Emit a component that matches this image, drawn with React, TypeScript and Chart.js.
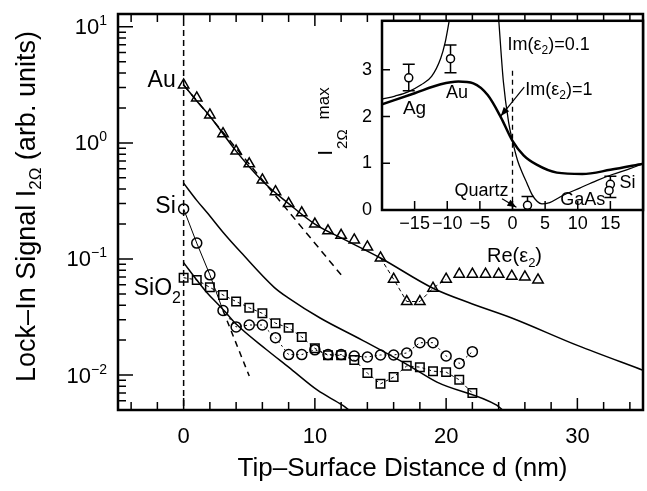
import { useEffect, useRef } from 'react';
import { Chart, registerables } from 'chart.js';

Chart.register(...registerables);

const FONT = '"Liberation Sans", Arial, Helvetica, sans-serif';

// ---------------- main panel data ----------------
const auDistance = [0, 1, 2, 3, 4, 5, 6, 7, 8, 9, 10, 11, 12, 13, 14, 15, 16, 17, 18, 19, 20, 21, 22, 23, 24, 25, 26, 27];
const auSignal = [3.16, 2.44, 1.74, 1.2, 0.85, 0.66, 0.48, 0.38, 0.3, 0.25, 0.2, 0.175, 0.16, 0.146, 0.127, 0.102, 0.067, 0.043, 0.043, 0.056, 0.067, 0.074, 0.074, 0.074, 0.074, 0.071, 0.07, 0.066];

const siDistance = [0, 1, 2, 3, 4, 5, 6, 7, 8, 9, 10, 11, 12, 13, 14, 15, 16, 17, 18, 19, 20, 21, 22];
const siSignal = [0.27, 0.137, 0.073, 0.036, 0.026, 0.027, 0.027, 0.021, 0.015, 0.015, 0.0165, 0.015, 0.015, 0.0146, 0.0143, 0.0149, 0.0149, 0.0155, 0.019, 0.019, 0.0146, 0.0126, 0.0159];

const sio2Distance = [0, 1, 2, 3, 4, 5, 6, 7, 8, 9, 10, 11, 12, 13, 14, 15, 16, 17, 18, 19, 20, 21, 22];
const sio2Signal = [0.069, 0.066, 0.057, 0.049, 0.043, 0.038, 0.034, 0.028, 0.0255, 0.0213, 0.017, 0.0148, 0.0148, 0.0135, 0.0104, 0.0084, 0.0096, 0.012, 0.0117, 0.0108, 0.0106, 0.0091, 0.007];

// model curves (solid)
const auModelD = [0, 1, 2, 4, 6, 8, 10, 12, 15, 19, 22, 25, 30, 35];
const auModelI = [3.16, 2.3, 1.7, 0.85, 0.47, 0.3, 0.2, 0.152, 0.102, 0.056, 0.041, 0.031, 0.018, 0.011];
const siModelD = [0, 1, 1.8, 3, 4.4, 6.9, 8, 10.4, 13.6, 17.2, 19.3, 23.85, 24.3];
const siModelI = [0.45, 0.32, 0.25, 0.17, 0.113, 0.057, 0.046, 0.031, 0.02, 0.012, 0.0087, 0.0055, 0.005];
const sio2ModelD = [0, 1, 1.8, 2.6, 3.2, 4, 6.3, 8, 10.2, 12.1, 12.6];
const sio2ModelI = [0.093, 0.066, 0.051, 0.041, 0.0347, 0.0275, 0.0166, 0.0117, 0.0074, 0.0055, 0.005];

// exponential fits (dashed)
const auFitD = [0, 12];
const auFitI = [3.16, 0.073];
const siFitD = [3, 5];
const siFitI = [0.036, 0.0098];

// contact line d = 0
const contactD = [0, 0];
const contactI = [9.4, 0.005];

// axis ticks
const xTickValues = [-4, -2, 0, 2, 4, 6, 8, 10, 12, 14, 16, 18, 20, 22, 24, 26, 28, 30, 32, 34];
const yDecadeExponents = [-2, -1, 0, 1];
const yDecadeLabels = ['−2', '−1', '0', '1'];

// ---------------- inset data ----------------
const im01LeftRe = [-20, -18, -16, -14, -12.4, -11, -10.3, -9.7];
const im01LeftVal = [2.37, 2.44, 2.53, 2.68, 2.86, 3.25, 3.6, 4.05];
const im01RightRe = [-2.1, -1.4, -0.6, 0, 0.8, 1.5, 2.2, 3, 3.8, 4.5, 5.7, 7.7, 10.3, 12.9, 15.3, 17.9, 20];
const im01RightVal = [4.05, 2.75, 1.88, 1.48, 1.05, 0.8, 0.58, 0.33, 0.18, 0.13, 0.16, 0.31, 0.47, 0.63, 0.76, 0.88, 0.99];
const im1Re = [-20, -15, -11, -8.3, -6, -3.8, -1.8, 0, 1.7, 3.7, 6.8, 10.7, 15, 20];
const im1Val = [2.26, 2.5, 2.69, 2.75, 2.71, 2.46, 1.99, 1.48, 1.17, 0.97, 0.8, 0.77, 0.86, 0.99];

const expNames = ['Ag', 'Au', 'Quartz', 'Si', 'GaAs'];
const expRe = [-15.9, -9.5, 2.3, 15.0, 14.8];
const expVal = [2.83, 3.24, 0.1, 0.55, 0.42];
const expLow: (number | null)[] = [2.55, 2.94, 0, 0.27, null];
const expHigh: (number | null)[] = [3.12, 3.53, 0.29, 0.72, null];

const insetZeroRe = [0, 0];
const insetZeroVal = [2.98, 0];

const insetXTicks = [-15, -10, -5, 0, 5, 10, 15];
const insetYTicks = [0, 1, 2, 3];

// ---------------- annotation layout ----------------
type Run = { t: string; size: number; dy?: number; dx?: number };

const mainLabels: { runs: Run[]; d: number; v: number; align: 'left' | 'right' }[] = [
  { runs: [{ t: 'Au', size: 23 }], d: -0.6, v: 3.04, align: 'right' },
  { runs: [{ t: 'Si', size: 23 }], d: -0.6, v: 0.249, align: 'right' },
  { runs: [{ t: 'SiO', size: 23 }, { t: '2', size: 16, dy: 8 }], d: -3.8, v: 0.049, align: 'left' },
];

const insetLabels: { runs: Run[]; re: number; val: number }[] = [
  { runs: [{ t: 'Im(ε', size: 18 }, { t: '2', size: 12, dy: 4 }, { t: ')=0.1', size: 18 }], re: -0.75, val: 3.43 },
  { runs: [{ t: 'Im(ε', size: 18 }, { t: '2', size: 12, dy: 4 }, { t: ')=1', size: 18 }], re: 1.97, val: 2.46 },
  { runs: [{ t: 'Ag', size: 19 }], re: -16.8, val: 2.05 },
  { runs: [{ t: 'Au', size: 18 }], re: -10.2, val: 2.4 },
  { runs: [{ t: 'Quartz', size: 18 }], re: -8.9, val: 0.31 },
  { runs: [{ t: 'GaAs', size: 18 }], re: 7.3, val: 0.1 },
  { runs: [{ t: 'Si', size: 18 }], re: 16.4, val: 0.47 },
];

const insetArrows = [
  { from: [1.8, 2.63], to: [-1.8, 2.01] },
  { from: [-1.6, 0.24], to: [0.6, 0.06] },
];

// ---------------- helpers ----------------
const pts = (xs: number[], ys: number[]) => xs.map((x, i) => ({ x, y: ys[i] }));

function runsWidth(ctx: CanvasRenderingContext2D, runs: Run[]) {
  let w = 0;
  for (const r of runs) {
    ctx.font = `${r.size}px ${FONT}`;
    w += ctx.measureText(r.t).width + (r.dx || 0);
  }
  return w;
}

function drawRuns(ctx: CanvasRenderingContext2D, runs: Run[], x: number, y: number, align: 'left' | 'right' | 'center') {
  const total = runsWidth(ctx, runs);
  let cur = align === 'left' ? x : align === 'right' ? x - total : x - total / 2;
  ctx.textAlign = 'left';
  ctx.textBaseline = 'alphabetic';
  for (const r of runs) {
    ctx.font = `${r.size}px ${FONT}`;
    cur += r.dx || 0;
    ctx.fillText(r.t, cur, y + (r.dy || 0));
    cur += ctx.measureText(r.t).width;
  }
}

function yTickValues(min: number, max: number) {
  const out: number[] = [];
  for (let e = -3; e <= 1; e++) {
    for (let m = 1; m <= 9; m++) {
      const v = m * Math.pow(10, e);
      if (v >= min && v <= max) out.push(v);
    }
  }
  return out;
}

const Y_MIN = 0.005;
const Y_MAX = 12.9;

const mainDeco = {
  id: 'mainDeco',
  afterDraw(chart: any) {
    const { ctx, chartArea: a } = chart;
    const x = chart.scales.x;
    const y = chart.scales.y;
    ctx.save();
    ctx.strokeStyle = '#000';
    ctx.fillStyle = '#000';
    ctx.lineWidth = 1.5;
    ctx.beginPath();
    for (const v of xTickValues) {
      const px = x.getPixelForValue(v);
      const len = v % 10 === 0 ? 12 : 8;
      ctx.moveTo(px, a.bottom);
      ctx.lineTo(px, a.bottom - len);
      ctx.moveTo(px, a.top);
      ctx.lineTo(px, a.top + len);
    }
    for (const v of yTickValues(Y_MIN, Y_MAX)) {
      const py = y.getPixelForValue(v);
      const lg = Math.log10(v);
      const major = Math.abs(lg - Math.round(lg)) < 1e-9;
      ctx.moveTo(a.left, py);
      ctx.lineTo(a.left + (major ? 15 : 8), py);
    }
    ctx.stroke();
    ctx.lineWidth = 2.5;
    ctx.strokeRect(a.left, a.top, a.right - a.left, a.bottom - a.top);

    // y decade labels 10^n
    yDecadeExponents.forEach((e, i) => {
      const py = y.getPixelForValue(Math.pow(10, e));
      drawRuns(ctx, [{ t: '10', size: 22 }, { t: yDecadeLabels[i], size: 14, dy: -9 }], a.left - 11, py + 7.5, 'right');
    });

    // series labels
    for (const l of mainLabels) {
      drawRuns(ctx, l.runs, x.getPixelForValue(l.d), y.getPixelForValue(l.v), l.align);
    }

    // x title
    drawRuns(ctx, [{ t: 'Tip–Surface Distance d (nm)', size: 26 }], (a.left + a.right) / 2 + 22, a.bottom + 66, 'center');

    // y title (rotated)
    ctx.save();
    ctx.translate(a.left - 83, (a.top + a.bottom) / 2 - 5.5);
    ctx.rotate(-Math.PI / 2);
    drawRuns(ctx, [
      { t: 'Lock–In Signal I', size: 27 },
      { t: '2Ω', size: 17, dy: 6 },
      { t: ' (arb. units)', size: 27 },
    ], 0, 0, 'center');
    ctx.restore();
    ctx.restore();
  },
};

const insetDeco = {
  id: 'insetDeco',
  beforeDraw(chart: any) {
    const { ctx, chartArea: a } = chart;
    ctx.save();
    ctx.fillStyle = '#fff';
    ctx.fillRect(a.left, a.top, a.right - a.left, a.bottom - a.top);
    ctx.restore();
  },
  beforeDatasetsDraw(chart: any) {
    const { ctx } = chart;
    const x = chart.scales.x;
    const y = chart.scales.y;
    ctx.save();
    ctx.strokeStyle = '#000';
    ctx.lineWidth = 1.5;
    ctx.beginPath();
    expRe.forEach((re, i) => {
      const lo = expLow[i];
      const hi = expHigh[i];
      if (lo == null || hi == null) return;
      const px = x.getPixelForValue(re);
      const y1 = y.getPixelForValue(lo);
      const y2 = y.getPixelForValue(hi);
      ctx.moveTo(px, y1);
      ctx.lineTo(px, y2);
      ctx.moveTo(px - 6, y1);
      ctx.lineTo(px + 6, y1);
      ctx.moveTo(px - 6, y2);
      ctx.lineTo(px + 6, y2);
    });
    ctx.stroke();
    ctx.restore();
  },
  afterDraw(chart: any) {
    const { ctx, chartArea: a } = chart;
    const x = chart.scales.x;
    const y = chart.scales.y;
    ctx.save();
    ctx.strokeStyle = '#000';
    ctx.fillStyle = '#000';
    ctx.lineWidth = 1.5;
    ctx.beginPath();
    for (const v of insetXTicks) {
      const px = x.getPixelForValue(v);
      ctx.moveTo(px, a.bottom);
      ctx.lineTo(px, a.bottom - 9);
    }
    for (const v of insetYTicks) {
      const py = y.getPixelForValue(v);
      ctx.moveTo(a.left, py);
      ctx.lineTo(a.left + 8, py);
    }
    ctx.stroke();
    ctx.lineWidth = 2.5;
    ctx.strokeRect(a.left, a.top, a.right - a.left, a.bottom - a.top);

    // arrows
    ctx.lineWidth = 1.2;
    for (const ar of insetArrows) {
      const x1 = x.getPixelForValue(ar.from[0]);
      const y1 = y.getPixelForValue(ar.from[1]);
      const x2 = x.getPixelForValue(ar.to[0]);
      const y2 = y.getPixelForValue(ar.to[1]);
      const ang = Math.atan2(y2 - y1, x2 - x1);
      ctx.beginPath();
      ctx.moveTo(x1, y1);
      ctx.lineTo(x2, y2);
      ctx.stroke();
      ctx.beginPath();
      ctx.moveTo(x2, y2);
      ctx.lineTo(x2 - 9 * Math.cos(ang) + 3.5 * Math.sin(ang), y2 - 9 * Math.sin(ang) - 3.5 * Math.cos(ang));
      ctx.lineTo(x2 - 9 * Math.cos(ang) - 3.5 * Math.sin(ang), y2 - 9 * Math.sin(ang) + 3.5 * Math.cos(ang));
      ctx.closePath();
      ctx.fill();
    }

    // labels
    for (const l of insetLabels) {
      drawRuns(ctx, l.runs, x.getPixelForValue(l.re), y.getPixelForValue(l.val), 'left');
    }

    // x title
    drawRuns(ctx, [{ t: 'Re(ε', size: 20 }, { t: '2', size: 13, dy: 5 }, { t: ')', size: 20 }], x.getPixelForValue(0) + 2, a.bottom + 52, 'center');

    // y title (rotated): I_2Ω^max
    ctx.save();
    ctx.translate(a.left - 50, a.top + 135);
    ctx.rotate(-Math.PI / 2);
    drawRuns(ctx, [
      { t: 'I', size: 21 },
      { t: '2Ω', size: 15, dy: 15, dx: 1 },
      { t: 'max', size: 17, dy: -3, dx: 10 },
    ], 0, 0, 'left');
    ctx.restore();
    ctx.restore();
  },
};

function lineDs(xs: number[], ys: number[], extra: any = {}) {
  return {
    data: pts(xs, ys),
    showLine: true,
    borderColor: '#000',
    borderWidth: 1.5,
    pointRadius: 0,
    fill: false,
    ...extra,
  };
}

function markerDs(xs: number[], ys: number[], style: string, radius: number, extra: any = {}) {
  return {
    data: pts(xs, ys),
    showLine: true,
    borderColor: '#000',
    borderWidth: 1,
    pointStyle: style,
    pointRadius: radius,
    pointBorderWidth: 1.5,
    pointBorderColor: '#000',
    pointBackgroundColor: 'rgba(0,0,0,0)',
    fill: false,
    ...extra,
  };
}

export default function App() {
  const mainRef = useRef<HTMLCanvasElement>(null);
  const insetRef = useRef<HTMLCanvasElement>(null);

  useEffect(() => {
    Chart.defaults.font.family = FONT;
    Chart.defaults.color = '#000';

    const main = new Chart(mainRef.current as HTMLCanvasElement, {
      type: 'scatter',
      data: {
        datasets: [
          lineDs(contactD, contactI, { borderDash: [6, 4] }),
          lineDs(auModelD, auModelI, { cubicInterpolationMode: 'monotone' }),
          lineDs(siModelD, siModelI, { cubicInterpolationMode: 'monotone' }),
          lineDs(sio2ModelD, sio2ModelI, { cubicInterpolationMode: 'monotone' }),
          lineDs(auFitD, auFitI, { borderDash: [7, 5] }),
          lineDs(siFitD, siFitI, { borderDash: [6, 5] }),
          markerDs(auDistance, auSignal, 'triangle', 6, {
            borderDash: [4, 3],
            segment: {
              borderColor: (c: any) => (c.p0.parsed.x >= 15 && c.p1.parsed.x <= 20 ? '#000' : 'rgba(0,0,0,0)'),
            },
          }),
          markerDs(siDistance, siSignal, 'circle', 5, {
            segment: { borderDash: (c: any) => (c.p0.parsed.x >= 3 ? [2, 3] : undefined) },
          }),
          markerDs(sio2Distance, sio2Signal, 'rect', 6, { borderDash: [3, 3] }),
        ] as any,
      },
      options: {
        animation: false,
        responsive: false,
        events: [],
        layout: { padding: { top: 14, right: 4, left: 0, bottom: 0 }, autoPadding: false },
        plugins: { legend: { display: false }, tooltip: { enabled: false } },
        scales: {
          x: {
            type: 'linear',
            min: -5,
            max: 35,
            grid: { display: false, drawTicks: false },
            border: { display: false },
            afterBuildTicks: (s: any) => {
              s.ticks = xTickValues.map((v) => ({ value: v }));
            },
            ticks: {
              autoSkip: false,
              maxRotation: 0,
              padding: 14,
              color: '#000',
              font: { size: 22, family: FONT },
              callback: (v: any) => (Number(v) % 10 === 0 ? String(v) : ''),
            },
            afterFit: (s: any) => {
              s.height = 81;
            },
          },
          y: {
            type: 'logarithmic',
            min: Y_MIN,
            max: Y_MAX,
            grid: { display: false, drawTicks: false },
            border: { display: false },
            ticks: { display: false },
            afterFit: (s: any) => {
              s.width = 118;
            },
          },
        },
      } as any,
      plugins: [mainDeco],
    });

    const inset = new Chart(insetRef.current as HTMLCanvasElement, {
      type: 'scatter',
      data: {
        datasets: [
          lineDs(insetZeroRe, insetZeroVal, { borderDash: [5, 4], borderWidth: 1.3 }),
          lineDs(im01LeftRe, im01LeftVal, { cubicInterpolationMode: 'monotone', borderWidth: 1.3 }),
          lineDs(im01RightRe, im01RightVal, { cubicInterpolationMode: 'monotone', borderWidth: 1.3 }),
          lineDs(im1Re, im1Val, { cubicInterpolationMode: 'monotone', borderWidth: 2.5 }),
          {
            data: pts(expRe, expVal),
            showLine: false,
            pointStyle: 'circle',
            pointRadius: 4,
            pointBorderWidth: 1.5,
            pointBorderColor: '#000',
            pointBackgroundColor: '#fff',
            label: expNames.join(','),
          },
        ] as any,
      },
      options: {
        animation: false,
        responsive: false,
        events: [],
        layout: { padding: { top: 13, right: 4, left: 0, bottom: 0 }, autoPadding: false },
        plugins: { legend: { display: false }, tooltip: { enabled: false } },
        scales: {
          x: {
            type: 'linear',
            min: -20,
            max: 20,
            grid: { display: false, drawTicks: false },
            border: { display: false },
            afterBuildTicks: (s: any) => {
              s.ticks = insetXTicks.map((v) => ({ value: v }));
            },
            ticks: {
              autoSkip: false,
              maxRotation: 0,
              padding: 3,
              color: '#000',
              font: { size: 18, family: FONT },
              callback: (v: any) => (Number(v) < 0 ? '−' + Math.abs(Number(v)) : String(v)),
            },
            afterFit: (s: any) => {
              s.height = 65;
            },
          },
          y: {
            type: 'linear',
            min: 0,
            max: 4.05,
            grid: { display: false, drawTicks: false },
            border: { display: false },
            afterBuildTicks: (s: any) => {
              s.ticks = insetYTicks.map((v) => ({ value: v }));
            },
            ticks: {
              padding: 10,
              color: '#000',
              font: { size: 18, family: FONT },
            },
            afterFit: (s: any) => {
              s.width = 82;
            },
          },
        },
      } as any,
      plugins: [insetDeco],
    });

    return () => {
      main.destroy();
      inset.destroy();
    };
  }, []);

  return (
    <div style={{ position: 'absolute', left: 0, top: 0, width: 647, height: 491, background: '#fff', overflow: 'hidden' }}>
      <canvas ref={mainRef} width={647} height={491} style={{ position: 'absolute', left: 0, top: 0 }} />
      <canvas ref={insetRef} width={347} height={275} style={{ position: 'absolute', left: 300, top: 0 }} />
    </div>
  );
}
